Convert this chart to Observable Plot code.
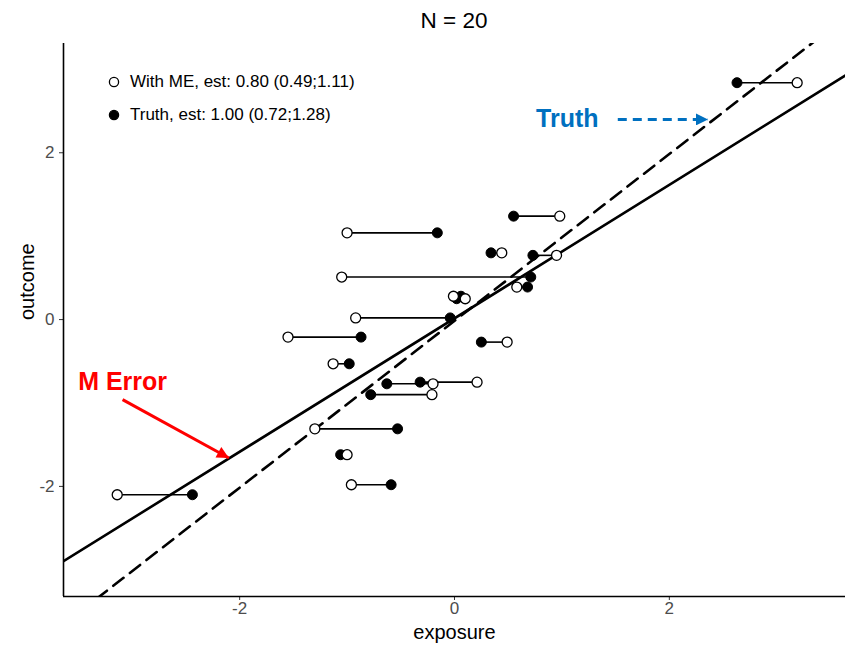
<!DOCTYPE html>
<html><head><meta charset="utf-8">
<script src="https://cdn.jsdelivr.net/npm/d3@7"></script>
<script src="https://cdn.jsdelivr.net/npm/@observablehq/plot@0.6"></script>
<style>
body{margin:0;background:#fff;font-family:"Liberation Sans",Arial,sans-serif;}
#wrap{position:relative;width:856px;height:647px;overflow:hidden;}
#title{height:36px;margin-left:63px;width:782px;text-align:center;font-size:22.5px;line-height:42px;color:#000;}
#legend{position:absolute;left:108px;top:65px;font-size:17px;color:#000;}
.row{height:33px;display:flex;align-items:center;}
.sym{width:12px;height:12px;display:inline-block;position:relative;margin-right:10px;}
.sym svg{position:absolute;left:0;top:0;}
</style></head>
<body><div id="wrap"><div id="title">N = 20</div><div id="chart"></div>
<div id="legend"></div></div>
<script>
// observed outcome (shared by both exposures)
const outcome = [2.84,1.24,1.04,0.80,0.77,0.51,0.39,0.28,0.25,0.02,-0.21,-0.27,-0.53,-0.75,-0.77,-0.90,-1.31,-1.62,-1.98,-2.10];
// true exposure (filled) and exposure measured with error (open)
const exposureTrue = [2.63,0.55,-0.16,0.34,0.73,0.71,0.68,0.06,0.02,-0.04,-0.87,0.25,-0.98,-0.32,-0.63,-0.78,-0.53,-1.06,-0.59,-2.44];
const exposureME   = [3.19,0.98,-1.00,0.44,0.95,-1.05,0.58,-0.01,0.10,-0.92,-1.55,0.49,-1.13,0.21,-0.20,-0.21,-1.30,-1.00,-0.96,-3.14];
// fitted lines
const fitNames = ["With ME","Truth"];
const fitIntercept = [0.015,-0.015];
const fitSlope = [0.80,1.00];
const legendLabels = ["With ME, est: 0.80 (0.49;1.11)","Truth, est: 1.00 (0.72;1.28)"];
// axes
const xDomain = [-3.64,3.64];
const yDomain = [-3.32,3.31];
const xTicks = [-2,0,2];
const yTicks = [-2,0,2];
// annotations
const annText = ["M Error","Truth"];
const annColor = ["#ff0000","#0070c0"];
const annX = [-3.09,1.05];
const annY = [-0.75,2.40];
const arrowX1 = [-3.09,1.52], arrowY1 = [-0.96,2.40];
const arrowX2 = [-2.10,2.36], arrowY2 = [-1.66,2.40];

const pts = outcome.map((y,i)=>({y, xt:exposureTrue[i], xm:exposureME[i]}));
const fitLines = fitNames.flatMap((n,i)=>xDomain.map(x=>({name:n, x, y:fitIntercept[i]+fitSlope[i]*x})));
const ann = annText.map((t,i)=>({t, c:annColor[i], x:annX[i], y:annY[i], x1:arrowX1[i], y1:arrowY1[i], x2:arrowX2[i], y2:arrowY2[i]}));

function filledArrow(color){
  const m = d3.create("svg:marker")
    .attr("viewBox","0 0 10 10").attr("refX",10).attr("refY",5)
    .attr("markerUnits","userSpaceOnUse").attr("markerWidth",15).attr("markerHeight",12)
    .attr("orient","auto");
  m.append("path").attr("d","M0,0L10,5L0,10Z").attr("fill",color).attr("stroke","none");
  return m.node();
}
const fmt = d => String(d);

const chart = Plot.plot({
  width:856, height:611,
  marginTop:7, marginBottom:51, marginLeft:63, marginRight:11,
  style:{fontFamily:"'Liberation Sans',Arial,sans-serif", fontSize:"15px", color:"#4d4d4d", background:"#fff"},
  x:{domain:xDomain},
  y:{domain:yDomain},
  marks:[
    Plot.axisX({ticks:xTicks, tickFormat:()=>"", tickSize:4, stroke:"#333", label:null}),
    Plot.axisY({ticks:yTicks, tickFormat:()=>"", tickSize:4, stroke:"#333", label:null}),
    Plot.text(xTicks, {x:d=>d, text:fmt, frameAnchor:"bottom", dy:17, fontSize:17, fill:"#4d4d4d"}),
    Plot.text(yTicks, {y:d=>d, text:fmt, frameAnchor:"left", dx:-9, textAnchor:"end", fontSize:17, fill:"#4d4d4d"}),
    Plot.ruleX([xDomain[0]], {stroke:"#000", strokeWidth:1.6}),
    Plot.ruleY([yDomain[0]], {stroke:"#000", strokeWidth:1.6}),
    Plot.text(["exposure"], {frameAnchor:"bottom", dy:42, fontSize:20, fill:"#000"}),
    Plot.text(["outcome"], {frameAnchor:"left", dx:-36, rotate:-90, fontSize:20, fill:"#000"}),
    Plot.line(fitLines.filter(d=>d.name==="With ME"), {x:"x", y:"y", stroke:"#000", strokeWidth:2.6, clip:true}),
    Plot.line(fitLines.filter(d=>d.name==="Truth"), {x:"x", y:"y", stroke:"#000", strokeWidth:2.6, strokeDasharray:"13,8", clip:true}),
    Plot.link(pts, {x1:"xt", x2:"xm", y1:"y", y2:"y", stroke:"#000", strokeWidth:1.6}),
    Plot.dot(pts, {x:"xt", y:"y", r:5, fill:"#000", stroke:"#000", strokeWidth:1}),
    Plot.dot(pts, {x:"xm", y:"y", r:5, fill:"#fff", stroke:"#000", strokeWidth:1.3}),
    Plot.link(ann.slice(0,1), {x1:"x1", y1:"y1", x2:"x2", y2:"y2", stroke:"c", strokeWidth:3, markerEnd:filledArrow}),
    Plot.link(ann.slice(1), {x1:"x1", y1:"y1", x2:"x2", y2:"y2", stroke:"c", strokeWidth:3, strokeDasharray:"9,6", markerEnd:filledArrow}),
    Plot.text(ann, {x:"x", y:"y", text:"t", fill:"c", fontSize:25, fontWeight:"bold"})
  ]
});
document.getElementById("chart").appendChild(chart);

const leg = document.getElementById("legend");
legendLabels.forEach((lab,i)=>{
  const row = document.createElement("div"); row.className="row";
  const s = document.createElement("span"); s.className="sym";
  s.innerHTML = `<svg width="12" height="12"><circle cx="6" cy="6" r="4.6" fill="${i===0?"#fff":"#000"}" stroke="#000" stroke-width="1.3"/></svg>`;
  row.appendChild(s);
  const t = document.createElement("span"); t.textContent = lab; row.appendChild(t);
  leg.appendChild(row);
});
</script></body></html>
